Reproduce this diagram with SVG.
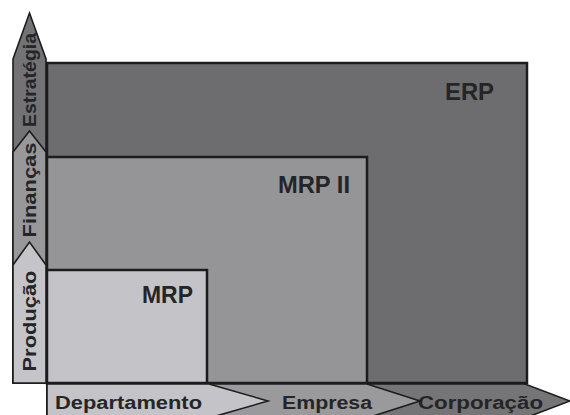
<svg xmlns="http://www.w3.org/2000/svg" width="570" height="415" viewBox="0 0 570 415">
<style>
.box{stroke:#1c1c1c;stroke-width:2.5;stroke-linejoin:miter}
.seg{stroke:#1c1c1c;stroke-width:1.6;stroke-linejoin:miter}
.lbl{font-family:"Liberation Sans",Arial,sans-serif;font-weight:bold;fill:#252527}
.big{font-size:23px}
.axis{font-size:18px}
</style>
<rect width="570" height="415" fill="#ffffff"/>
<g id="erp">
<rect class="box" x="47" y="63" width="480" height="320" fill="#6d6d6f"/>
<text class="lbl big" x="445" y="100" textLength="49" lengthAdjust="spacingAndGlyphs">ERP</text>
</g>
<g id="mrp2">
<rect class="box" x="47" y="157" width="320" height="226" fill="#959598"/>
<text class="lbl big" x="278" y="193" textLength="72" lengthAdjust="spacingAndGlyphs">MRP II</text>
</g>
<g id="mrp">
<rect class="box" x="47" y="270" width="160" height="113" fill="#c4c4c8"/>
<text class="lbl big" x="142" y="303" textLength="51" lengthAdjust="spacingAndGlyphs">MRP</text>
</g>
<g id="estrategia">
<polygon class="seg" points="13,59 29.5,13 46,59 46,383 13,383" fill="#737375"/>
<text class="lbl axis" transform="translate(35.5,80) rotate(-90)" text-anchor="middle" textLength="94" lengthAdjust="spacingAndGlyphs">Estratégia</text>
</g>
<g id="financas">
<polygon class="seg" points="13,152 29.5,131 46,152 46,383 13,383" fill="#98989b"/>
<text class="lbl axis" transform="translate(35.5,190) rotate(-90)" text-anchor="middle" textLength="95" lengthAdjust="spacingAndGlyphs">Finanças</text>
</g>
<g id="producao">
<polygon class="seg" points="13,265 29.5,242 46,265 46,383 13,383" fill="#c5c5c9"/>
<text class="lbl axis" transform="translate(35.5,321) rotate(-90)" text-anchor="middle" textLength="101" lengthAdjust="spacingAndGlyphs">Produção</text>
</g>
<g id="corporacao">
<polygon class="seg" points="47,384 525,384 570,401 525,418 47,418" fill="#757577"/>
<text class="lbl axis" x="480.5" y="408.5" text-anchor="middle" textLength="125" lengthAdjust="spacingAndGlyphs">Corporação</text>
</g>
<g id="empresa">
<polygon class="seg" points="47,384 367,384 420,401 367,418 47,418" fill="#9a9a9d"/>
<text class="lbl axis" x="327" y="408.5" text-anchor="middle" textLength="90" lengthAdjust="spacingAndGlyphs">Empresa</text>
</g>
<g id="departamento">
<polygon class="seg" points="47,384 209,384 268,401 209,418 47,418" fill="#c4c4c8"/>
<text class="lbl axis" x="128.5" y="408.5" text-anchor="middle" textLength="147" lengthAdjust="spacingAndGlyphs">Departamento</text>
</g>
<g id="connectors"></g>
</svg>
